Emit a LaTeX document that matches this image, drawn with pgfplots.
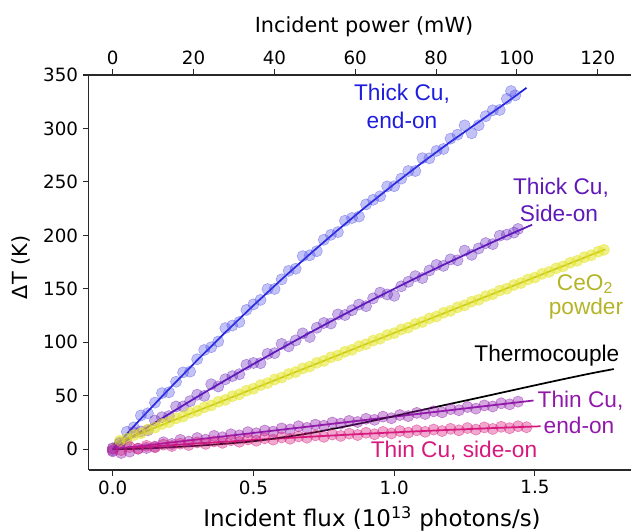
\documentclass[border=0pt]{standalone}
\usepackage{pgfplots}
\pgfplotsset{compat=1.18}
\usepackage{fontspec}
\setmainfont{DejaVu Sans}
\newfontfamily\annfont{Liberation Sans}
\definecolor{cBlue}{RGB}{30,30,220}
\definecolor{cBlueM}{RGB}{70,70,230}
\definecolor{cViolet}{RGB}{95,25,185}
\definecolor{cYel}{RGB}{228,228,40}
\definecolor{cOlive}{RGB}{170,170,20}
\definecolor{cOliveT}{RGB}{180,180,40}
\definecolor{cPurp}{RGB}{145,25,170}
\definecolor{cPink}{RGB}{215,25,125}
\definecolor{axgray}{RGB}{40,40,40}
\begin{document}
\begin{tikzpicture}
\path[use as bounding box] (-66.375pt,-45.75pt) rectangle (406.875pt,352.5pt);
\begin{axis}[
  at={(0pt,0pt)}, anchor=south west,
  scale only axis, width=406.875pt, height=296.25pt,
  xmin=-0.0860, xmax=1.8412, ymin=-19.4, ymax=350,
  axis x line*=bottom, axis y line*=left,
  axis line style={-, line width=0.9pt, axgray},
  tick align=outside, major tick length=4.3pt,
  tick style={line width=0.8pt, axgray},
  xtick={0,0.5,1,1.5}, ytick={0,50,...,350},
  /pgf/number format/assume math mode=true,
  x tick label style={/pgf/number format/.cd, fixed, fixed zerofill, precision=1, assume math mode=true},
  tick label style={font=\fontsize{13.7}{16}\selectfont},
  clip=false,
]
% Thick Cu, end-on
\addplot[only marks, mark=*, mark size=4.2pt, mark options={fill=cBlueM, draw=cBlueM, fill opacity=0.33, draw opacity=0.45}] table {
x y
0.000 1
0.025 5.2
0.050 16.4
0.075 20.5
0.100 31.6
0.125 33.6
0.150 43.6
0.175 52.5
0.200 53.3
0.225 63.1
0.250 71.9
0.275 72.6
0.300 84.2
0.325 92.8
0.350 95.4
0.375 100.8
0.400 113.3
0.425 115.7
0.450 119.0
0.475 130.3
0.500 135.5
0.525 139.7
0.550 149.8
0.575 149.9
0.600 158.9
0.625 166.8
0.650 168.8
0.675 180.6
0.700 181.4
0.725 185.2
0.750 195.9
0.775 200.5
0.800 203.1
0.825 213.7
0.850 216.2
0.875 217.6
0.900 229.0
0.925 233.3
0.950 236.6
0.975 245.8
1.000 246.0
1.025 253.1
1.050 260.2
1.075 260.2
1.100 272.2
1.125 272.1
1.150 279.0
1.175 280.8
1.200 290.5
1.225 294.2
1.250 302.9
1.275 295.5
1.300 303.0
1.325 311.5
1.350 317.0
1.375 317.3
1.400 327.7
1.415 335.0
1.430 331.0
};
\addplot[no marks, cBlue, line width=1.3pt] coordinates {
(0,0) (0.1,28.6) (0.2,56.3) (0.3,83.2) (0.4,109.3) (0.5,134.5) (0.6,158.9) (0.7,182.4) (0.8,205.1) (0.9,227.0) (1.0,248) (1.1,268.2) (1.2,287.5) (1.3,306.0) (1.4,324.5) (1.47,338)
};
% Thick Cu, side-on
\addplot[only marks, mark=*, mark size=4.2pt, mark options={fill=cViolet, draw=cViolet, fill opacity=0.33, draw opacity=0.45}] table {
x y
0.000 -1
0.025 6.2
0.050 6.4
0.075 15.6
0.100 16.7
0.125 17.8
0.150 26.9
0.175 30.0
0.200 31.0
0.225 40.0
0.250 40.0
0.275 45.0
0.300 51.0
0.325 49.9
0.350 60.8
0.375 58.7
0.400 65.5
0.425 68.4
0.450 70.2
0.475 79.0
0.500 80.7
0.525 80.5
0.550 89.2
0.575 89.9
0.600 98.5
0.625 96.2
0.650 101.8
0.675 108.4
0.700 105.0
0.725 113.6
0.750 118.1
0.775 117.6
0.800 126.1
0.825 125.5
0.850 130.0
0.875 135.4
0.900 133.8
0.925 141.1
0.950 146.5
0.975 144.8
1.000 143.5
1.025 152.4
1.050 156.6
1.075 161.9
1.100 160.1
1.125 167.2
1.150 172.4
1.175 171.5
1.200 177.6
1.225 176.7
1.250 185.8
1.275 181.8
1.300 187.8
1.325 192.8
1.350 191.8
1.375 199.7
1.400 200.7
1.425 202.6
1.440 206.0
};
\addplot[no marks, cViolet, line width=1.3pt] coordinates {
(0,0) (0.1,16.7) (0.2,33.0) (0.3,49.0) (0.4,64.5) (0.5,79.7) (0.6,94.5) (0.7,109.0) (0.8,123.1) (0.9,136.8) (1.0,150.1) (1.1,163.1) (1.2,175.6) (1.3,187.8) (1.4,199.7) (1.49,210)
};
% CeO2 powder
\addplot[only marks, mark=*, mark size=4.2pt, mark options={fill=cYel, draw=cYel, fill opacity=0.55, draw opacity=0.6}] table {
x y
0.025 7.9
0.050 9.8
0.075 13.2
0.100 15.0
0.125 18.4
0.150 20.2
0.175 23.6
0.200 25.4
0.225 28.8
0.250 30.6
0.275 34.0
0.300 35.8
0.325 39.2
0.350 41.0
0.375 44.4
0.400 46.2
0.425 49.6
0.450 51.4
0.475 54.8
0.500 56.6
0.525 60.0
0.550 61.8
0.575 65.2
0.600 67.0
0.625 70.4
0.650 72.2
0.675 75.6
0.700 77.4
0.725 80.8
0.750 82.6
0.775 86.0
0.800 87.8
0.825 91.2
0.850 93.0
0.875 96.4
0.900 98.2
0.925 101.6
0.950 103.4
0.975 106.8
1.000 108.6
1.025 112.0
1.050 113.8
1.075 117.2
1.100 119.0
1.125 122.4
1.150 124.2
1.175 127.6
1.200 129.4
1.225 132.8
1.250 134.6
1.275 138.0
1.300 139.8
1.325 143.2
1.350 145.0
1.375 148.4
1.400 150.2
1.425 153.6
1.450 155.4
1.475 158.8
1.500 160.6
1.525 164.0
1.550 165.8
1.575 169.2
1.600 171.0
1.625 174.4
1.650 176.2
1.675 179.6
1.700 181.4
1.725 184.8
1.745 186.5
};
\addplot[no marks, cOlive, line width=1.2pt] coordinates {(0.0,4.5) (1.75,187)};
% Thin Cu, end-on
\addplot[only marks, mark=*, mark size=4.2pt, mark options={fill=cPurp, draw=cPurp, fill opacity=0.38, draw opacity=0.5}] table {
x y
0.00 -2.0
0.03 -3.5
0.06 -2.2
0.09 0.5
0.12 1.2
0.15 2.5
0.18 6.5
0.21 5.0
0.24 8.8
0.27 7.2
0.30 10.5
0.33 9.0
0.36 12.5
0.39 11.2
0.42 14.0
0.45 13.0
0.48 16.0
0.51 15.0
0.54 17.5
0.57 16.5
0.60 19.5
0.63 18.5
0.66 21.5
0.69 20.0
0.72 23.0
0.75 22.0
0.78 25.0
0.81 24.0
0.84 26.5
0.87 25.5
0.90 28.5
0.93 27.5
0.96 30.5
0.99 29.0
1.02 32.0
1.05 31.0
1.08 34.0
1.11 33.0
1.14 35.5
1.17 34.5
1.20 37.5
1.23 36.5
1.26 39.5
1.29 38.0
1.32 41.0
1.35 40.0
1.38 43.0
1.41 42.0
1.44 44.5
};
\addplot[no marks, cPurp, line width=1.3pt] coordinates {(0,0) (1.495,45.6)};
% Thin Cu, side-on
\addplot[only marks, mark=*, mark size=4.2pt, mark options={fill=cPink, draw=cPink, fill opacity=0.38, draw opacity=0.5}] table {
x y
0.00 0.5
0.03 -0.8
0.06 2.0
0.09 0.6
0.12 3.2
0.15 1.8
0.18 4.3
0.21 3.0
0.24 5.2
0.27 4.0
0.30 6.4
0.33 5.0
0.36 7.3
0.39 6.0
0.42 8.4
0.45 7.0
0.48 9.2
0.51 8.0
0.54 10.3
0.57 9.0
0.60 11.1
0.63 9.8
0.66 12.0
0.69 10.8
0.72 13.0
0.75 11.6
0.78 13.8
0.81 12.5
0.84 14.6
0.87 13.3
0.90 15.4
0.93 14.0
0.96 16.2
0.99 14.8
1.02 17.0
1.05 15.6
1.08 17.7
1.11 16.3
1.14 18.4
1.17 17.0
1.20 19.1
1.23 17.7
1.26 19.8
1.29 18.4
1.32 20.4
1.35 19.0
1.38 21.0
1.41 19.7
1.44 21.5
1.47 20.6
};
\addplot[no marks, cPink, line width=1.3pt] coordinates {
(0,0) (0.15,2.78) (0.3,5.41) (0.45,7.90) (0.6,10.25) (0.75,12.45) (0.9,14.51) (1.05,16.42) (1.2,18.19) (1.35,19.82) (1.52,21.5)
};
% Thermocouple
\addplot[no marks, black, line width=1.3pt, smooth] coordinates {
(0,0) (0.1,0.5) (0.2,1.8) (0.3,3.3) (0.4,5.2) (0.5,7.5) (0.6,11) (0.7,15) (0.8,20) (0.9,25.3) (1.0,31) (1.1,36.8) (1.2,42.5) (1.3,48.2) (1.4,54) (1.5,59.8) (1.6,65.5) (1.7,71) (1.78,75)
};
% annotations
\begin{scope}[every node/.style={anchor=base, inner sep=0pt, font=\annfont\fontsize{17}{20}\selectfont}]
\node[text=cBlue] at (axis cs:1.0277,325.7) {Thick Cu,};
\node[text=cBlue] at (axis cs:1.0277,299.5) {end-on};
\node[text=cViolet] at (axis cs:1.5925,237.8) {Thick Cu,};
\node[text=cViolet] at (axis cs:1.5854,212.6) {Side-on};
\node[text=cOliveT] at (axis cs:1.6777,148.6) {CeO\textsubscript{2}};
\node[text=cOliveT] at (axis cs:1.6813,125.6) {powder};
\node[text=black] at (axis cs:1.5424,81.9) {Thermocouple};
\node[text=cPurp] at (axis cs:1.6618,38.6) {Thin Cu,};
\node[text=cPurp] at (axis cs:1.6565,15.2) {end-on};
\node[text=cPink] at (axis cs:1.2124,-8.0) {Thin Cu, side-on};
\end{scope}
\end{axis}
\begin{axis}[
  at={(0pt,0pt)}, anchor=south west,
  scale only axis, width=406.875pt, height=296.25pt,
  xmin=-5.99, xmax=128.24, ymin=0, ymax=1,
  axis x line*=top, axis y line=none,
  axis line style={-, line width=0.9pt, axgray},
  tick align=outside, major tick length=4.3pt,
  tick style={line width=0.8pt, axgray},
  xtick={0,20,...,120},
  /pgf/number format/assume math mode=true,
  tick label style={font=\fontsize{13.7}{16}\selectfont},
]
\end{axis}
\node[anchor=base, inner sep=0pt, font=\fontsize{15.6}{18}\selectfont] at (206.6pt,328.3pt) {Incident power (mW)};
\node[anchor=base, inner sep=0pt, font=\fontsize{17.2}{20}\selectfont] at (212.6pt,-42.5pt) {Incident flux (10\textsuperscript{13} photons/s)};
\node[rotate=90, inner sep=0pt, font=\fontsize{15.6}{18}\selectfont] at (-50.6pt,152pt) {ΔT (K)};
\end{tikzpicture}
\end{document}
